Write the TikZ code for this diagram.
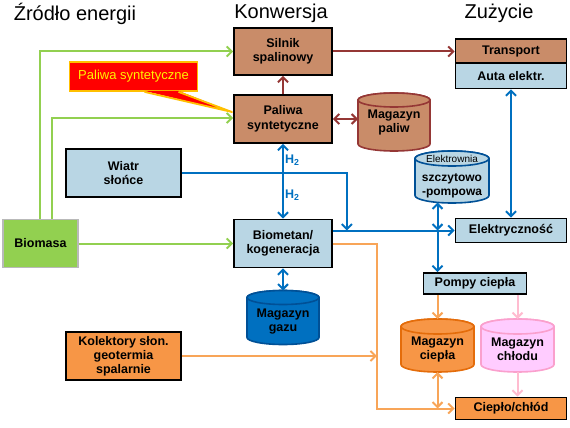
\documentclass[tikz,border=0pt]{standalone}
\usepackage{fontspec}
\setmainfont{Liberation Sans}
\usepackage{tikz}
\usetikzlibrary{arrows.meta, calc, backgrounds}

\definecolor{brownfill}{RGB}{201,140,105}
\definecolor{darkredline}{RGB}{149,55,53}
\definecolor{paleblue}{RGB}{185,214,228}
\definecolor{flowblue}{RGB}{0,112,192}
\definecolor{gazedge}{RGB}{0,80,150}
\definecolor{biogreen}{RGB}{146,208,80}
\definecolor{heatorange}{RGB}{247,150,70}
\definecolor{heatdark}{RGB}{228,108,10}
\definecolor{heatline}{RGB}{248,165,88}
\definecolor{coolpink}{RGB}{255,204,255}
\definecolor{cooledge}{RGB}{250,160,205}
\definecolor{coolline}{RGB}{255,188,208}
\definecolor{calloutedge}{RGB}{255,192,0}

\tikzset{
  flowbox/.style={
    draw=black, line width=1.8pt, align=center, inner sep=1pt,
    font=\bfseries\fontsize{12.5}{14.5}\selectfont
  },
  tankshape/.style={
    rectangle, outer sep=0pt, inner sep=0pt, align=center,
    font=\bfseries\fontsize{12.5}{14}\selectfont
  },
  flowarrow/.style={
    line width=2pt, -{Straight Barb[length=5pt, width=10pt]}
  },
  flowdbl/.style={
    line width=2pt,
    {Straight Barb[length=5pt, width=10pt]}-{Straight Barb[length=5pt, width=10pt]}
  },
  headtitle/.style={font=\fontsize{20}{22}\selectfont},
}

% tank outline behind a named node: node, fill, edge, end radius
\newcommand{\tankoutline}[4]{%
  \begin{scope}[on background layer]
    \path let \p1 = ($(#1.east)-(#1.west)$) in
      [fill=#2, draw=#3, line width=1.6pt, line join=round]
      ($(#1.north west)+(0,#4)$) -- ($(#1.south west)+(0,-#4)$)
      arc[start angle=180, end angle=360, x radius=0.5*\x1, y radius=#4pt]
      -- ($(#1.north east)+(0,#4)$)
      arc[start angle=0, end angle=180, x radius=0.5*\x1, y radius=#4pt] -- cycle;
    \path let \p1 = ($(#1.east)-(#1.west)$) in
      [fill=#2, draw=#3, line width=1.6pt]
      ($(#1.north)+(0,#4)$) ellipse[x radius=0.5*\x1, y radius=#4pt];
  \end{scope}}

\begin{document}
\begin{tikzpicture}[x=1pt, y=-1pt,
  hlabel/.style={font=\bfseries\fontsize{12.5}{13}\selectfont, text=flowblue, anchor=west, inner sep=1pt},
]
  \useasboundingbox (0,0) rectangle (570,428);

  % === Column titles ===
  \node[headtitle] (tzrodlo) at (75,14) {Źródło energii};
  \node[headtitle] (tkonw) at (281,13) {Konwersja};
  \node[headtitle] (tzuz) at (499,13) {Zużycie};

  % === Sources ===
  \node[flowbox, fill=biogreen, draw=gray!55, minimum width=75, minimum height=48] (biomasa) at (40.5,243.5) {Biomasa};
  \node[flowbox, fill=paleblue, minimum width=115, minimum height=48] (wiatr) at (123.5,173) {Wiatr\\słońce};
  \node[flowbox, fill=heatorange, minimum width=115, minimum height=48, font=\bfseries\fontsize{12.5}{14}\selectfont] (kolektory) at (123.5,356) {Kolektory słon.\\geotermia\\spalarnie};

  % === Conversion ===
  \node[flowbox, fill=brownfill, minimum width=98, minimum height=47] (silnik) at (283,51.5) {Silnik\\spalinowy};
  \node[flowbox, fill=brownfill, minimum width=98, minimum height=48] (paliwa) at (283,119) {Paliwa\\syntetyczne};
  \node[flowbox, fill=paleblue, minimum width=98, minimum height=48] (biometan) at (283,243.5) {Biometan/\\kogeneracja};
  \node[tankshape, minimum width=72, minimum height=58] (magpaliw) at (394,122) {Magazyn\\paliw};
  \node[tankshape, minimum width=72, minimum height=54] (maggazu) at (283,317.5) {\rule{0pt}{17pt}Magazyn\\gazu};

  % === Consumption ===
  \node[flowbox, fill=brownfill, minimum width=111, minimum height=24.5] (transport) at (511,51) {Transport};
  \node[flowbox, fill=paleblue, minimum width=111, minimum height=25] (auta) at (511,76) {Auta elektr.};
  \node[flowbox, fill=paleblue, minimum width=111, minimum height=24] (elektr) at (511,230.5) {Elektryczność};
  \node[flowbox, fill=paleblue, minimum width=103, minimum height=21] (pompy) at (475,283.5) {Pompy ciepła};
  \node[flowbox, fill=heatorange, minimum width=111, minimum height=22] (cieplo) at (511,408.5) {Ciepło/chłód};
  \node[tankshape, minimum width=74, minimum height=52, font=\bfseries\fontsize{12}{14.5}\selectfont] (elektrownia) at (452,177)
    {{\mdseries\fontsize{10}{12}\selectfont Elektrownia}\\[4pt]szczytowo\\-pompowa};
  \node[tankshape, minimum width=73, minimum height=53] (magciepla) at (437.5,345.5) {\rule{0pt}{17pt}Magazyn\\ciepła};
  \node[tankshape, minimum width=73, minimum height=53] (magchlodu) at (517.5,345.5) {\rule{0pt}{17pt}Magazyn\\chłodu};

  % === Tank outlines ===
  \tankoutline{magpaliw}{brownfill}{darkredline}{7}
  \tankoutline{maggazu}{flowblue}{gazedge}{7}
  \tankoutline{elektrownia}{paleblue}{gazedge}{7.5}
  \tankoutline{magciepla}{heatorange}{heatdark}{7.5}
  \tankoutline{magchlodu}{coolpink}{cooledge}{7.5}

  % === Callout ===
  \coordinate (calloutpt) at (232,112);
  \node[fill=red, draw=calloutedge, line width=1.8pt, text=yellow,
    minimum width=128, minimum height=29, font=\fontsize{13}{15}\selectfont] (callout) at (133.5,76.5) {Paliwa syntetyczne};
  \fill[red] ($(callout.south)+(11,-1)$) -- (calloutpt) -- ($(callout.south)+(45,-1)$) -- cycle;
  \draw[calloutedge, line width=1.8pt, line join=round] ($(callout.south)+(11,0)$) -- (calloutpt) -- ($(callout.south)+(45,0)$);

  % === Helper points ===
  \coordinate (jE) at (magciepla.north |- elektr.west);
  \coordinate (wjoin) at ($(biometan.east |- elektr.west)+(14,0)$);
  \coordinate (ojog) at ($(biometan.east)+(44,0)$);

  % === Green arrows ===
  \draw[flowarrow, biogreen] ($(biomasa.north)+(-0.5,0)$) |- (silnik.west);
  \draw[flowarrow, biogreen] ($(biomasa.north)+(11,0)$) |- ($(paliwa.west)+(0,-1)$);
  \draw[flowarrow, biogreen] (biomasa.east) -- (biometan.west);

  % === Fuel arrows ===
  \draw[flowarrow, darkredline] (paliwa.north) -- (silnik.south);
  \draw[flowarrow, darkredline] (silnik.east) -- (silnik.east -| transport.west);
  \draw[flowdbl, darkredline] (paliwa.east) -- (paliwa.east -| magpaliw.west);

  % === Electricity arrows ===
  \draw[flowdbl, flowblue] (paliwa.south) -- node[hlabel, pos=0.22] {H\textsubscript{2}} node[hlabel, pos=0.69] {H\textsubscript{2}} (biometan.north);
  \draw[flowarrow, flowblue] (wiatr.east) -| (wjoin);
  \draw[flowarrow, flowblue] (biometan.east |- elektr.west) -- (elektr.west);
  \draw[flowdbl, flowblue] (biometan.south) -- (maggazu.north);
  \draw[flowdbl, flowblue] (auta.south) -- (elektr.north);
  \draw[flowdbl, flowblue] ($(elektrownia.south -| jE)+(0,-0.5)$) -- (jE);
  \draw[flowarrow, flowblue] (jE) -- (pompy.north -| jE);

  % === Heat arrows ===
  \draw[flowarrow, heatline] (biometan.east) -- (ojog) |- (cieplo.west);
  \draw[flowarrow, heatline] (kolektory.east) -- (kolektory.east -| ojog);
  \draw[flowarrow, heatline] (pompy.south -| magciepla.north) -- (magciepla.north);
  \draw[flowdbl, heatline] (magciepla.south) -- (magciepla.south |- cieplo.west);
  \draw[flowarrow, coolline] (pompy.south -| magchlodu.north) -- (magchlodu.north);
  \draw[flowarrow, coolline] (magchlodu.south) -- (magchlodu.south |- cieplo.north);

\end{tikzpicture}
\end{document}
